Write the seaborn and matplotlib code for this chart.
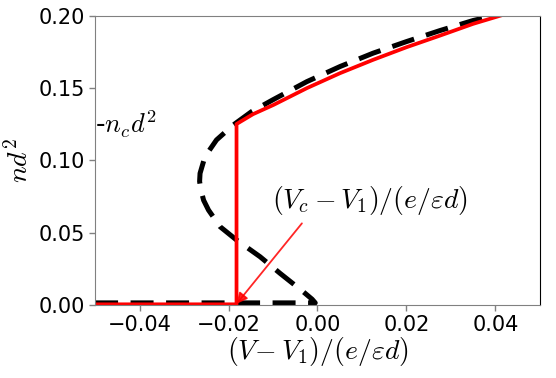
import matplotlib
matplotlib.use('Agg')
from matplotlib import pyplot as plt
import seaborn as sns

# black dashed S-curve (full solution), path order
curve_v = [-0.05, -0.0005, -0.0012, -0.0032, -0.0084, -0.0129, -0.0182, -0.0219,
           -0.0245, -0.0256, -0.0262, -0.0265, -0.0264, -0.0253, -0.0227, -0.0189,
           -0.0148, -0.0100, -0.0024, 0.0051, 0.0125, 0.0200, 0.0275, 0.0350, 0.0402]
curve_n = [0.0015, 0.0015, 0.004, 0.0092, 0.0219, 0.0334, 0.045, 0.0542,
           0.0657, 0.0725, 0.0796, 0.0855, 0.0911, 0.1026, 0.1142, 0.1246,
           0.1338, 0.142, 0.1545, 0.165, 0.1742, 0.1822, 0.1898, 0.1968, 0.2005]

# red solid physical branch with jump at Vc
jump_v = [-0.05, -0.0182, -0.0182, -0.0145, -0.0099, -0.0024, 0.0051, 0.0125,
          0.0200, 0.0275, 0.0350, 0.0417]
jump_n = [0.0005, 0.0005, 0.1252, 0.132, 0.1384, 0.150, 0.1604, 0.1696,
          0.1783, 0.1863, 0.1945, 0.2007]

v_c = -0.0182
n_c = 0.125

sns.set_style('white')
plt.rcParams['font.family'] = ['DejaVu Sans']
plt.rcParams['mathtext.fontset'] = 'cm'
plt.rcParams['text.color'] = 'black'
plt.rcParams['axes.labelcolor'] = 'black'
plt.rcParams['xtick.labelcolor'] = 'black'
plt.rcParams['ytick.labelcolor'] = 'black'

fig, ax = plt.subplots(figsize=(5.56, 3.78), dpi=100)
fig.subplots_adjust(left=0.171, right=0.971, top=0.958, bottom=0.193)

sns.lineplot(x=curve_v, y=curve_n, sort=False, estimator=None, ax=ax,
             color='black', lw=3.6, linestyle=(0, (4.6, 2.5)))
sns.lineplot(x=jump_v, y=jump_n, sort=False, estimator=None, ax=ax,
             color='red', lw=2.7)

ax.annotate('', xy=(v_c, 0.0008), xytext=(-0.0035, 0.0565),
            arrowprops=dict(arrowstyle='-|>', color='red', alpha=0.85,
                            lw=1.3, mutation_scale=16, shrinkA=0, shrinkB=0))
ax.text(0.0117, 0.072, r'$(V_c-V_1)/(e/\varepsilon d)$', fontsize=20,
        ha='center', va='center')
ax.text(-0.0501, n_c, r'-$n_cd^2$', fontsize=19, ha='left', va='center')

ax.set_xlim(-0.05, 0.05)
ax.set_ylim(0, 0.2)
ax.set_xticks([-0.04, -0.02, 0.0, 0.02, 0.04])
ax.set_yticks([0.0, 0.05, 0.10, 0.15, 0.20])
ax.set_xlabel(r'$(V\!-V_1)/(e/\varepsilon d)$', fontsize=20, labelpad=0)
ax.set_ylabel(r'$nd^2$', fontsize=20, labelpad=3)
ax.tick_params(labelsize=15, direction='out', length=4, width=1,
               color='#808080', left=True, bottom=True)
for side in ['left', 'top', 'bottom']:
    ax.spines[side].set_color('#808080')
ax.spines['right'].set_color('black')

plt.savefig('out.png', dpi=100)
